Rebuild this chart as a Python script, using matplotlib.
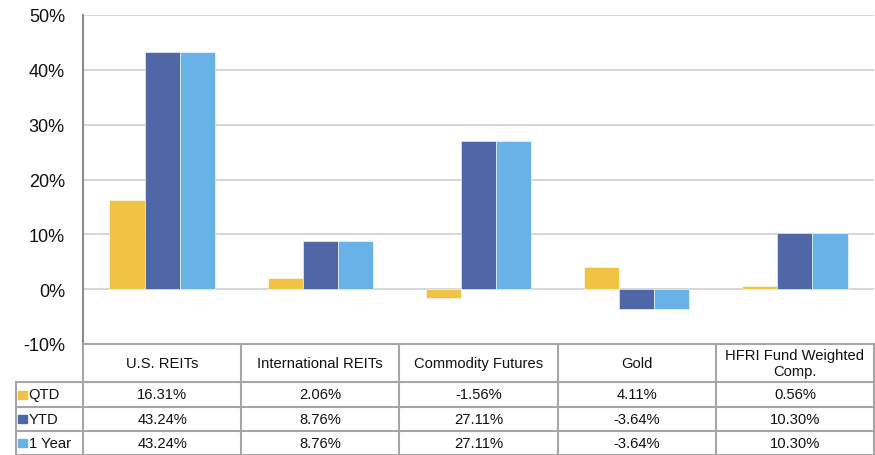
import matplotlib.pyplot as plt
from matplotlib.patches import Rectangle

plt.rcParams['font.family'] = ['Liberation Sans', 'DejaVu Sans']

categories = ["U.S. REITs", "International REITs", "Commodity Futures", "Gold",
              "HFRI Fund Weighted\nComp."]
series_names = ["QTD", "YTD", "1 Year"]
qtd = [16.31, 2.06, -1.56, 4.11, 0.56]
ytd = [43.24, 8.76, 27.11, -3.64, 10.30]
one_year = [43.24, 8.76, 27.11, -3.64, 10.30]
y_ticks = [-10, 0, 10, 20, 30, 40, 50]

colors = ["#F2C244", "#4F67A6", "#68B2E8"]
grid_color = "#D3D3D3"
line_color = "#A6A6A6"

W, H = 875, 456
fig = plt.figure(figsize=(W / 100, H / 100), dpi=100)

# chart area
left, right = 83 / W, 874 / W
ax = fig.add_axes([left, 1 - 345 / H, right - left, (345 - 16) / H])
n = len(categories)
bw = 0.222
for i, (name, vals) in enumerate(zip(series_names, [qtd, ytd, one_year])):
    xs = [k + (i - 1) * bw for k in range(n)]
    ax.bar(xs, vals, width=bw, color=colors[i], edgecolor="white",
           linewidth=0.4, zorder=3, label=name)

ax.set_xlim(-0.5, n - 0.5)
ax.set_ylim(-10, 50)
ax.set_yticks(y_ticks)
ax.set_yticklabels([f"{t}%" for t in y_ticks], fontsize=13, color="#111111")
ax.set_xticks([])
ax.tick_params(axis="y", length=0, pad=13)
ax.grid(axis="y", color=grid_color, linewidth=1.3, zorder=0)
for s in ["top", "right", "bottom"]:
    ax.spines[s].set_visible(False)
ax.spines["left"].set_color("#8C8C8C")
ax.spines["left"].set_linewidth(1.5)

# data table under the chart
tax = fig.add_axes([left, 0, right - left, (H - 345) / H])
tax.set_xlim(-0.5, n - 0.5)
tax.set_ylim(111, 0)
tax.axis("off")

label_left = -0.5 - (83 - 16) / ((874 - 83) / n)
row_edges = [0, 38, 63, 87, 111]
kw = dict(color=line_color, linewidth=1.5, clip_on=False)

tax.plot([-0.5, n - 0.5], [row_edges[0]] * 2, **kw)
for y in row_edges[1:]:
    tax.plot([label_left, n - 0.5], [y, y], **kw)
for k in range(n + 1):
    tax.plot([k - 0.5] * 2, [0, 111], **kw)
tax.plot([label_left] * 2, [row_edges[1], 111], **kw)

fs = 10.6
for k, cat in enumerate(categories):
    tax.text(k, row_edges[1] / 2, cat, ha="center", va="center",
             fontsize=fs, linespacing=1.1, color="#111111")

for r, (name, vals) in enumerate(zip(series_names, [qtd, ytd, one_year])):
    yc = (row_edges[r + 1] + row_edges[r + 2]) / 2
    tax.add_patch(Rectangle((label_left + 0.015, yc - 4), 0.055, 8,
                            color=colors[r], clip_on=False))
    tax.text(label_left + 0.08, yc, name, ha="left", va="center",
             fontsize=fs, color="#111111")
    for k, v in enumerate(vals):
        tax.text(k, yc, f"{v:.2f}%", ha="center", va="center",
                 fontsize=fs, color="#111111")

fig.savefig("out.png", dpi=100)
